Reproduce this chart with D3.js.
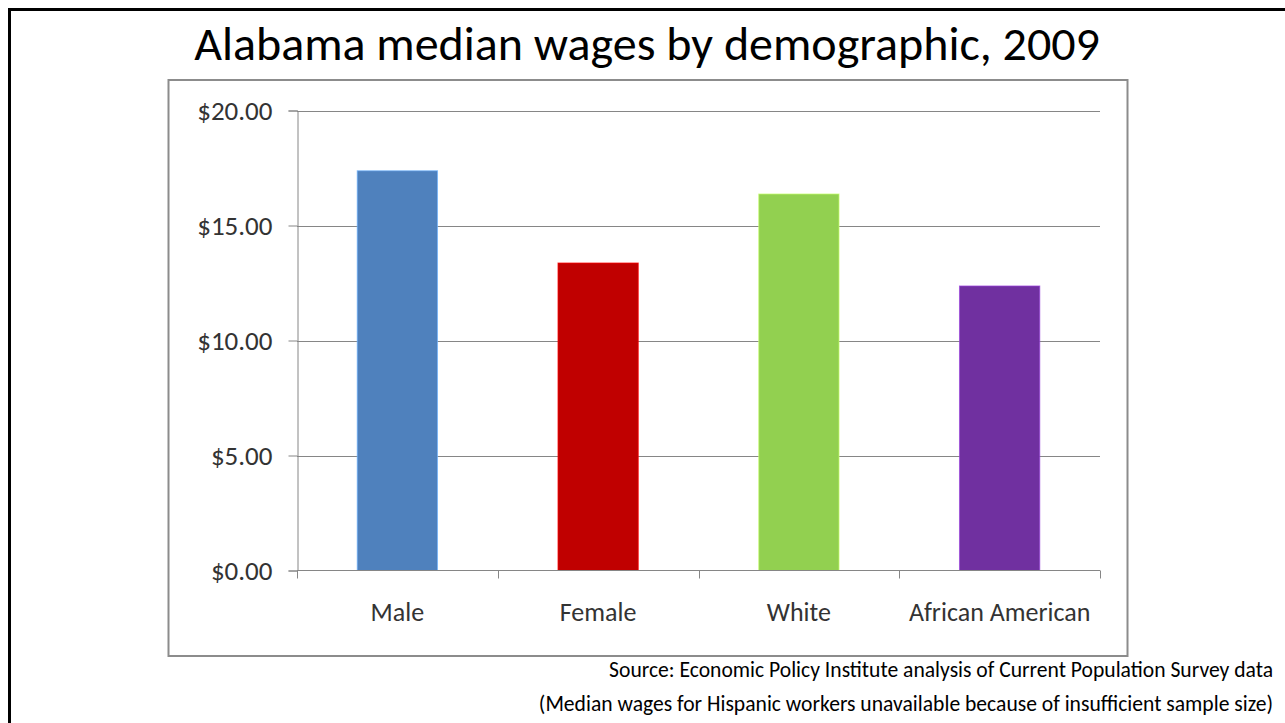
<!DOCTYPE html>
<html>
<head>
<meta charset="utf-8">
<script src="https://cdn.jsdelivr.net/npm/d3@7/dist/d3.min.js"></script>
<style>
  html, body { margin: 0; padding: 0; background: #fff; }
  svg { display: block; font-family: Carlito, Calibri, Lato, "Open Sans", sans-serif; }
</style>
</head>
<body>
<svg id="chart" width="1285" height="723"></svg>
<script>
// Median hourly wages, Alabama 2009
const categories = ["Male", "Female", "White", "African American"];
const wages = [17.38, 13.37, 16.37, 12.37];
const barColors = ["#4F81BD", "#C00000", "#92D050", "#7030A0"];
const yTicks = [0, 5, 10, 15, 20];
const title = "Alabama median wages by demographic, 2009";
const notes = [
  "Source: Economic Policy Institute analysis of Current Population Survey data",
  "(Median wages for Hispanic workers unavailable because of insufficient sample size)"
];

const svg = d3.select("#chart");

// slide frame
svg.append("rect")
  .attr("x", 9.5).attr("y", 9.5)
  .attr("width", 1400).attr("height", 800)
  .attr("fill", "none").attr("stroke", "#000").attr("stroke-width", 3);

// chart frame
svg.append("rect")
  .attr("x", 168.5).attr("y", 80)
  .attr("width", 959).attr("height", 576)
  .attr("fill", "#fff").attr("stroke", "#8c8c8c").attr("stroke-width", 2);

const plot = { left: 297, right: 1100, top: 110.5, bottom: 570.5 };

const x = d3.scaleBand()
  .domain(categories)
  .range([plot.left, plot.right])
  .paddingInner(0.6)
  .paddingOuter(0.3);

const y = d3.scaleLinear()
  .domain([0, 20])
  .range([plot.bottom, plot.top]);

// horizontal gridlines
svg.append("g")
  .selectAll("line")
  .data(yTicks.filter(d => d > 0))
  .join("line")
  .attr("x1", plot.left).attr("x2", plot.right)
  .attr("y1", d => Math.round(y(d)) + 0.5).attr("y2", d => Math.round(y(d)) + 0.5)
  .attr("stroke", "#868686").attr("stroke-width", 1);

// bars
svg.append("g")
  .selectAll("rect")
  .data(categories)
  .join("rect")
  .attr("x", d => x(d))
  .attr("width", x.bandwidth())
  .attr("y", (d, i) => y(wages[i]))
  .attr("height", (d, i) => y(0) - y(wages[i]))
  .attr("fill", (d, i) => barColors[i])
  .attr("stroke", (d, i) => d3.color(barColors[i]).brighter(0.9))
  .attr("stroke-width", 1)
  .attr("stroke-opacity", 0.7);

// y axis
const yAxis = d3.axisLeft(y)
  .tickValues(yTicks)
  .tickSize(9)
  .tickPadding(16)
  .tickFormat(d => "$" + d3.format(".2f")(d));

const gy = svg.append("g")
  .attr("transform", `translate(${plot.left + 0.5},0)`)
  .call(yAxis);
gy.select(".domain").attr("stroke", "#868686");
gy.selectAll(".tick line").attr("stroke", "#868686");
gy.selectAll(".tick text")
  .attr("fill", "#333")
  .style("font-size", "27px")
  .style("font-family", "Carlito, Calibri, Lato, sans-serif");

// x axis: ticks on category boundaries
const boundaries = d3.range(categories.length + 1)
  .map(i => plot.left + i * x.step());

const gx = svg.append("g");
gx.append("line")
  .attr("x1", plot.left).attr("x2", plot.right)
  .attr("y1", plot.bottom).attr("y2", plot.bottom)
  .attr("stroke", "#868686");
gx.selectAll("line.tk")
  .data(boundaries)
  .join("line")
  .attr("class", "tk")
  .attr("x1", d => Math.round(d) + 0.5).attr("x2", d => Math.round(d) + 0.5)
  .attr("y1", plot.bottom).attr("y2", plot.bottom + 8)
  .attr("stroke", "#868686");
gx.selectAll("text")
  .data(categories)
  .join("text")
  .attr("x", d => x(d) + x.bandwidth() / 2)
  .attr("y", 621)
  .attr("text-anchor", "middle")
  .attr("fill", "#333")
  .style("font-size", "26px")
  .text(d => d);

// title
svg.append("text")
  .attr("x", 647)
  .attr("y", 60)
  .attr("text-anchor", "middle")
  .attr("fill", "#000")
  .style("font-size", "48px")
  .text(title);

// source notes
svg.append("g")
  .selectAll("text")
  .data(notes)
  .join("text")
  .attr("x", 1273)
  .attr("y", (d, i) => 677 + i * 34)
  .attr("text-anchor", "end")
  .attr("fill", "#000")
  .style("font-size", "21.6px")
  .text(d => d);
</script>
</body>
</html>
